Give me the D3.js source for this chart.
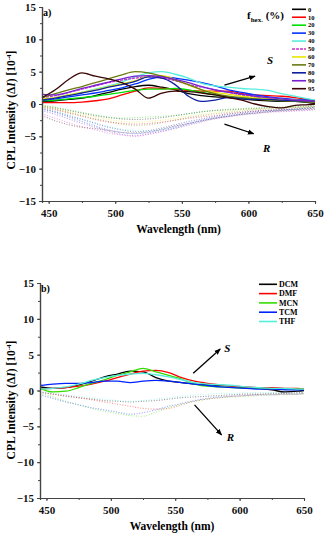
<!DOCTYPE html>
<html>
<head>
<meta charset="utf-8">
<script src="https://cdn.jsdelivr.net/npm/d3@7"></script>
<style>
  body { margin: 0; background: #fff; }
  svg { display: block; font-family: "Liberation Serif", "Times New Roman", serif; font-weight: bold; }
  .axis path, .axis line { stroke: #444; }
  .axis text { font-family: "Liberation Serif", serif; font-weight: bold; font-size: 11px; fill: #111; }
</style>
</head>
<body>
<div class="chart"></div>
<script>
// CPL spectra, two panels

// wavelength grid (nm) shared by every series
var wavelength = [445, 455, 465, 475, 485, 495, 505, 515, 525, 535, 545, 555, 565, 575, 585, 595, 605, 615, 625, 635, 645, 650];

// panel a) - hexane fraction series
var fhexLabels = ["0", "10", "20", "30", "40", "50", "60", "70", "80", "90", "95"];
var fhexColors = ["#000000", "#ff0000", "#00e000", "#0033ff", "#55eedd", "#cc33cc", "#e8e800", "#6b7a10", "#1020a0", "#7a20d0", "#3a0505"];

var sFhex = [
  [0.4, 0.5, 0.7, 0.9, 1.3, 1.8, 2.3, 2.7, 2.9, 2.6, 2.2, 1.6, 1.3, 1.1, 1.0, 0.8, 0.6, 0.5, 0.4, 0.4, 0.2, 0.1],
  [0.2, 0.2, 0.2, 0.3, 0.5, 0.8, 1.4, 2.0, 2.5, 2.4, 2.3, 2.1, 2.0, 2.0, 2.0, 1.6, 1.4, 1.3, 1.2, 1.0, 0.7, 0.5],
  [0.5, 0.6, 0.8, 1.0, 1.2, 1.5, 1.8, 2.1, 2.3, 2.3, 2.4, 2.2, 1.8, 1.4, 1.1, 0.9, 0.8, 0.7, 0.6, 0.5, 0.4, 0.3],
  [0.6, 0.8, 1.1, 1.4, 1.7, 2.1, 2.5, 3.1, 3.8, 4.2, 4.0, 3.7, 3.3, 2.8, 2.2, 1.8, 1.4, 1.1, 0.9, 0.7, 0.6, 0.5],
  [0.7, 1.0, 1.4, 1.8, 2.3, 2.8, 3.4, 4.2, 4.8, 5.0, 4.6, 4.0, 3.2, 2.8, 2.6, 2.4, 2.3, 2.1, 1.6, 1.2, 0.8, 0.6],
  [1.0, 1.3, 1.8, 2.3, 2.8, 3.3, 3.7, 4.0, 4.2, 4.0, 3.6, 3.0, 2.6, 2.2, 1.8, 1.4, 1.1, 0.9, 0.7, 0.5, 0.4, 0.3],
  [0.8, 1.0, 1.4, 1.8, 2.2, 2.7, 3.1, 3.6, 4.3, 4.4, 3.8, 2.9, 2.2, 1.8, 1.5, 1.2, 1.0, 0.8, 0.7, 0.6, 0.5, 0.4],
  [1.0, 1.6, 2.2, 2.7, 3.3, 3.9, 4.5, 5.0, 4.8, 4.3, 3.7, 3.0, 2.2, 1.6, 1.2, 1.0, 0.8, 0.6, 0.5, 0.4, 0.3, 0.3],
  [0.6, 0.9, 1.3, 1.7, 2.1, 2.6, 3.0, 3.5, 4.2, 4.0, 3.0, 1.2, 0.4, 0.6, 1.0, 0.8, 0.7, 0.7, 0.6, 0.5, 0.5, 0.4],
  [1.5, 1.4, 1.8, 2.4, 2.9, 3.4, 3.9, 4.3, 4.4, 4.2, 3.8, 3.3, 2.7, 2.2, 1.8, 1.5, 1.2, 1.0, 0.8, 0.6, 0.5, 0.4],
  [1.0, 2.2, 3.8, 4.8, 4.3, 3.9, 3.3, 2.3, 0.9, 1.7, 2.0, 1.9, 1.7, 1.4, 1.0, 0.6, 0.0, -0.4, -0.6, -0.2, -0.1, 0.0]
];

var rFhex = [
  [-0.3, -0.6, -1.0, -1.4, -1.8, -2.1, -2.3, -2.4, -2.3, -2.1, -1.8, -1.5, -1.2, -1.0, -0.9, -0.8, -0.7, -0.6, -0.5, -0.5, -0.4, -0.3],
  [-0.5, -0.9, -1.4, -1.9, -2.4, -2.8, -3.0, -3.1, -3.0, -2.8, -2.5, -2.2, -2.0, -1.8, -1.5, -1.3, -1.1, -1.0, -0.9, -0.8, -0.6, -0.5],
  [-0.2, -0.5, -0.9, -1.3, -1.7, -2.0, -2.2, -2.1, -2.0, -1.9, -1.8, -1.5, -1.2, -1.0, -0.8, -0.7, -0.6, -0.5, -0.5, -0.4, -0.3, -0.3],
  [-0.8, -1.3, -2.0, -2.7, -3.4, -4.0, -4.4, -4.6, -4.4, -4.0, -3.5, -3.0, -2.5, -2.1, -1.8, -1.5, -1.2, -1.0, -0.9, -0.8, -0.6, -0.5],
  [-0.6, -1.1, -1.7, -2.3, -2.9, -3.5, -3.9, -4.1, -4.2, -4.0, -3.7, -3.2, -2.7, -2.2, -1.9, -1.6, -1.4, -1.2, -1.0, -0.8, -0.6, -0.5],
  [-1.5, -2.2, -2.9, -3.5, -4.0, -4.5, -4.8, -5.0, -4.7, -4.3, -3.8, -3.3, -2.8, -2.3, -2.0, -1.7, -1.5, -1.3, -1.2, -1.1, -1.0, -0.9],
  [-0.3, -0.7, -1.2, -1.6, -2.0, -2.4, -2.7, -2.8, -2.7, -2.5, -2.2, -1.9, -1.6, -1.3, -1.1, -0.9, -0.8, -0.7, -0.6, -0.5, -0.4, -0.3],
  [-0.4, -0.8, -1.3, -1.8, -2.3, -2.7, -3.1, -3.3, -3.2, -2.9, -2.5, -2.1, -1.8, -1.5, -1.3, -1.1, -0.9, -0.8, -0.7, -0.6, -0.5, -0.4],
  [-0.7, -1.2, -1.8, -2.4, -3.0, -3.6, -4.0, -4.3, -4.1, -3.7, -3.2, -2.7, -2.3, -1.9, -1.6, -1.3, -1.1, -1.0, -0.9, -0.8, -0.7, -0.6],
  [-1.0, -1.6, -2.3, -3.0, -3.6, -4.2, -4.7, -4.9, -4.6, -4.2, -3.7, -3.1, -2.6, -2.2, -1.9, -1.6, -1.4, -1.2, -1.1, -1.0, -0.9, -0.8],
  [-1.8, -2.6, -3.2, -3.6, -3.8, -4.1, -4.4, -4.5, -4.3, -3.9, -3.4, -3.0, -2.6, -2.2, -1.9, -1.6, -1.4, -1.2, -1.0, -0.9, -0.8, -0.7]
];

// panel b) - solvent series
var solventLabels = ["DCM", "DMF", "MCN", "TCM", "THF"];
var solventColors = ["#000000", "#ff0000", "#33dd00", "#0022ff", "#55eedd"];

var sSolvent = [
  [0.5, 0.3, 0.4, 0.8, 1.3, 1.9, 2.3, 2.7, 2.6, 1.8, 1.3, 1.1, 0.9, 0.8, 0.7, 0.6, 0.4, 0.3, 0.1, -0.2, -0.1, 0.0],
  [0.2, 0.3, 0.4, 0.6, 0.9, 1.3, 1.8, 2.3, 2.7, 2.8, 2.5, 1.8, 1.3, 1.0, 0.8, 0.6, 0.5, 0.4, 0.4, 0.3, 0.3, 0.2],
  [0.3, -0.2, -0.1, 0.4, 1.0, 1.5, 2.1, 2.6, 3.1, 2.6, 2.1, 1.6, 0.9, 0.6, 0.5, 0.4, 0.3, 0.3, 0.2, 0.2, 0.2, 0.2],
  [0.7, 0.9, 1.0, 1.0, 1.1, 1.3, 1.3, 1.1, 1.3, 1.4, 1.3, 1.1, 0.9, 0.7, 0.5, 0.4, 0.3, 0.2, 0.2, 0.1, 0.1, 0.1],
  [0.2, 0.3, 0.5, 0.9, 1.4, 1.8, 2.1, 2.3, 2.4, 2.2, 1.9, 1.5, 1.1, 0.9, 0.8, 0.7, 0.5, 0.4, 0.3, 0.3, 0.2, 0.2]
];

var rSolvent = [
  [-0.2, -0.5, -0.8, -1.0, -1.2, -1.4, -1.5, -1.6, -1.5, -1.4, -1.2, -1.0, -0.9, -0.8, -0.7, -0.6, -0.5, -0.5, -0.4, -0.4, -0.3, -0.3],
  [-0.3, -0.5, -0.7, -1.0, -1.3, -1.6, -1.9, -2.2, -2.5, -2.6, -2.5, -2.0, -1.5, -1.2, -1.0, -0.8, -0.7, -0.6, -0.6, -0.5, -0.5, -0.4],
  [-0.4, -0.9, -1.5, -2.0, -2.5, -2.9, -3.2, -3.5, -3.6, -3.0, -2.4, -1.9, -1.5, -1.2, -1.0, -0.9, -0.8, -0.7, -0.6, -0.6, -0.5, -0.5],
  [-0.6, -1.1, -1.6, -2.0, -2.4, -2.7, -3.0, -3.3, -3.1, -2.7, -2.2, -1.8, -1.4, -1.1, -0.9, -0.8, -0.7, -0.6, -0.6, -0.5, -0.5, -0.4],
  [-0.2, -0.4, -0.6, -0.8, -1.0, -1.2, -1.4, -1.5, -1.4, -1.2, -1.0, -0.8, -0.6, -0.5, -0.4, -0.4, -0.3, -0.3, -0.3, -0.3, -0.2, -0.2]
];

var xTicks = [450, 500, 550, 600, 650];
var yTicks = [-15, -10, -5, 0, 5, 10, 15];

var svg = d3.select(".chart")
    .append("svg")
    .attr("width", 325)
    .attr("height", 533);

svg.append("defs").append("marker")
    .attr("id", "arrow")
    .attr("viewBox", "0 0 10 10")
    .attr("refX", 9)
    .attr("refY", 5)
    .attr("markerWidth", 5)
    .attr("markerHeight", 5)
    .attr("orient", "auto")
    .append("path")
    .attr("d", "M0,1 L10,5 L0,9 Z")
    .attr("fill", "#000");

function drawPanel(cfg) {
    var g = svg.append("g");

    var x = d3.scaleLinear().domain([445, 650]).range([cfg.left, cfg.right]);
    var y = d3.scaleLinear().domain([-15, 15]).range([cfg.bottom, cfg.top]);

    var line = d3.line()
        .x(function(d, i) { return x(wavelength[i]); })
        .y(function(d) { return y(d); })
        .curve(d3.curveMonotoneX);

    // R (dotted) first, then S (solid)
    cfg.rSeries.forEach(function(vals, i) {
        g.append("path")
            .attr("d", line(vals))
            .attr("fill", "none")
            .attr("stroke", cfg.colors[i])
            .attr("stroke-width", 1.1)
            .attr("stroke-dasharray", "1,1.6")
            .attr("opacity", 0.42);
    });

    cfg.sSeries.forEach(function(vals, i) {
        g.append("path")
            .attr("d", line(vals))
            .attr("fill", "none")
            .attr("stroke", cfg.colors[i])
            .attr("stroke-width", 1.3)
            .attr("stroke-dasharray", cfg.dashed && cfg.dashed[i] ? "3,1" : null);
    });

    // axes
    var xAxis = d3.axisBottom(x).tickValues(xTicks).tickSize(3).tickSizeOuter(0);
    var xMinor = d3.axisBottom(x).tickValues(d3.range(450, 651, 25)).tickSize(2).tickFormat("");
    var yAxis = d3.axisLeft(y).tickValues(yTicks).tickSize(3).tickSizeOuter(0);
    var yMinor = d3.axisLeft(y).tickValues(d3.range(-15, 15.1, 2.5)).tickSize(2).tickFormat("");

    g.append("g").attr("class", "axis")
        .attr("transform", "translate(0," + cfg.bottom + ")")
        .call(xMinor);
    g.append("g").attr("class", "axis")
        .attr("transform", "translate(0," + cfg.bottom + ")")
        .call(xAxis)
        .selectAll("text").attr("dy", "0.9em");
    g.append("g").attr("class", "axis")
        .attr("transform", "translate(" + cfg.left + ",0)")
        .call(yMinor);
    g.append("g").attr("class", "axis")
        .attr("transform", "translate(" + cfg.left + ",0)")
        .call(yAxis);
    g.selectAll(".axis path").attr("stroke-width", 1.2);

    // axis titles
    g.append("text")
        .attr("x", (cfg.left + cfg.right) / 2)
        .attr("y", cfg.bottom + 32)
        .attr("text-anchor", "middle")
        .attr("font-size", "11.5px")
        .text("Wavelength (nm)");

    var yl = g.append("text")
        .attr("transform", "translate(15," + cfg.yTitle + ") rotate(-90)")
        .attr("text-anchor", "middle")
        .attr("font-size", "11.5px");
    yl.append("tspan").text("CPL Intensity (Δ");
    yl.append("tspan").attr("font-style", "italic").text("I");
    yl.append("tspan").text(") [10");
    yl.append("tspan").attr("font-size", "7px").attr("dy", "-4").text("-4");
    yl.append("tspan").attr("dy", "4").text("]");

    g.append("text")
        .attr("x", cfg.left + 1)
        .attr("y", cfg.top + 9)
        .attr("font-size", "10px")
        .text(cfg.tag);

    // arrows and S / R labels
    cfg.arrows.forEach(function(a) {
        g.append("line")
            .attr("x1", x(a[0])).attr("y1", y(a[1]))
            .attr("x2", x(a[2])).attr("y2", y(a[3]))
            .attr("stroke", "#000")
            .attr("stroke-width", 1.3)
            .attr("marker-end", "url(#arrow)");
    });
    cfg.marks.forEach(function(m) {
        g.append("text")
            .attr("x", x(m[1])).attr("y", y(m[2]))
            .attr("font-size", "11px")
            .attr("font-style", "italic")
            .text(m[0]);
    });

    // legend
    var lg = g.append("g");
    cfg.labels.forEach(function(lab, i) {
        var yy = cfg.legY + i * cfg.legStep;
        lg.append("line")
            .attr("x1", cfg.legX).attr("x2", cfg.legX + cfg.legLen)
            .attr("y1", yy).attr("y2", yy)
            .attr("stroke", cfg.colors[i])
            .attr("stroke-width", 1.6)
            .attr("stroke-dasharray", cfg.dashed && cfg.dashed[i] ? "3,1" : null);
        lg.append("text")
            .attr("x", cfg.legX + cfg.legLen + 2)
            .attr("y", yy)
            .attr("dy", "0.35em")
            .attr("font-size", cfg.legFont)
            .text(lab);
    });
    return g;
}

var ga = drawPanel({
    left: 42, right: 315, top: 7, bottom: 201, yTitle: 110, tag: "a)",
    sSeries: sFhex, rSeries: rFhex, colors: fhexColors, labels: fhexLabels,
    dashed: [false, false, false, false, false, true, false, false, false, false, false],
    arrows: [[582, 2.9, 605, 4.3], [582, -3.1, 604, -4.6]],
    marks: [["S", 614, 6.2], ["R", 611, -7.4]],
    legX: 292, legY: 9.3, legStep: 7.94, legLen: 14, legFont: "6.5px"
});

// f_hex. (%) legend title
var ft = ga.append("text").attr("x", 247).attr("y", 19).attr("font-size", "11px");
ft.append("tspan").text("f");
ft.append("tspan").attr("font-size", "7px").attr("dy", "3").text("hex.");
ft.append("tspan").attr("dy", "-3").text(" (%)");

drawPanel({
    left: 40, right: 304, top: 283, bottom: 498, yTitle: 400, tag: "b)",
    sSeries: sSolvent, rSeries: rSolvent, colors: solventColors, labels: solventLabels,
    arrows: [[564, 2.4, 585, 5.8], [565, -2.0, 586, -6.2]],
    marks: [["S", 588, 5.4], ["R", 590, -7.1]],
    legX: 259, legY: 284.3, legStep: 9.3, legLen: 18, legFont: "8px"
});
</script>
</body>
</html>
